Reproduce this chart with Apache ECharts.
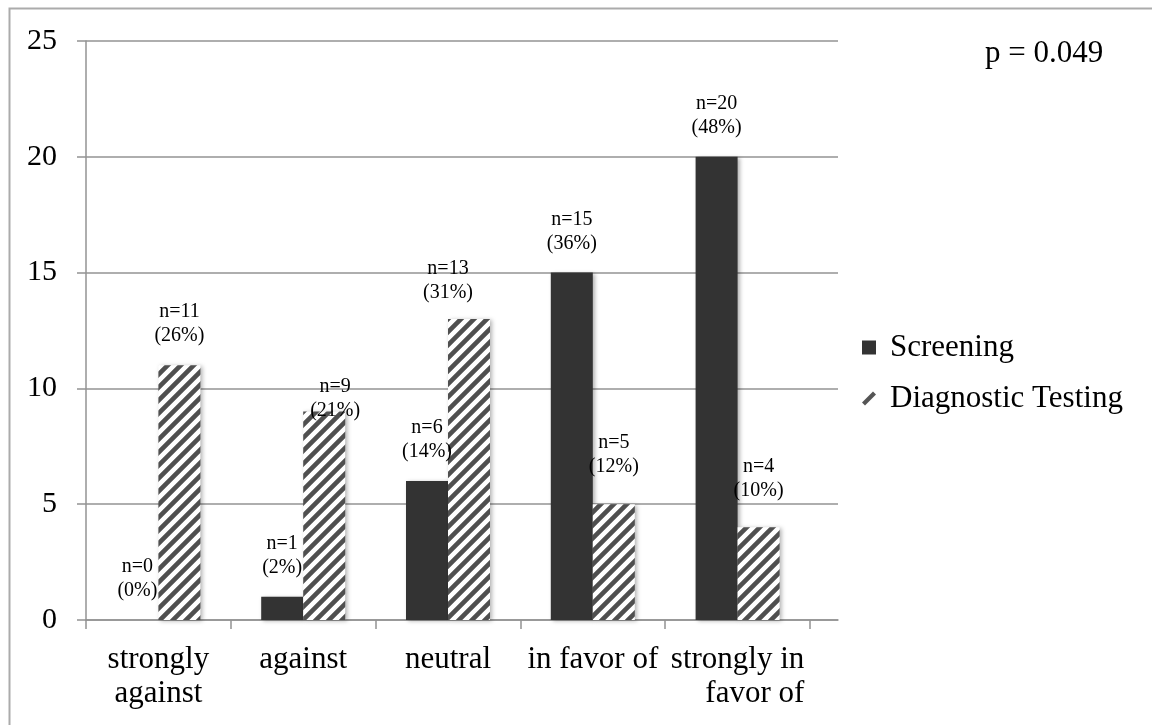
<!DOCTYPE html>
<html>
<head>
<meta charset="utf-8">
<script src="https://cdn.jsdelivr.net/npm/echarts@6/dist/echarts.min.js"></script>
<style>html,body{margin:0;padding:0;background:#fff;}#c{width:1152px;height:725px;}</style>
</head>
<body>
<div id="c"></div>
<script>
// ---- data ----
const categories = ['strongly against', 'against', 'neutral', 'in favor of', 'strongly in favor of'];
const screening = [0, 1, 6, 15, 20];
const screeningPct = [0, 2, 14, 36, 48];
const diagnostic = [11, 9, 13, 5, 4];
const diagnosticPct = [26, 21, 31, 12, 10];
const yTicks = [0, 5, 10, 15, 20, 25];
const pValueText = 'p = 0.049';

// ---- styles ----
const FONT = '"Liberation Serif", "Times New Roman", serif';
const BIG = 31;
const GRID_COLOR = '#939393';
const labelNudge = { // style tweaks per diagnostic label index
  1: { distance: -11, offset: [11, 0] },
  2: { distance: 14, offset: [-21, 0] },
  3: { distance: 25 },
  4: { distance: 25 }
};

function hatch() {
  const s = 13;
  const cv = document.createElement('canvas');
  cv.width = s; cv.height = s;
  const ctx = cv.getContext('2d');
  ctx.fillStyle = '#ffffff';
  ctx.fillRect(0, 0, s, s);
  ctx.strokeStyle = '#4f4f4f';
  ctx.lineWidth = 4.6;
  ctx.beginPath();
  ctx.moveTo(-3, 3); ctx.lineTo(3, -3);
  ctx.moveTo(-1, s + 1); ctx.lineTo(s + 1, -1);
  ctx.moveTo(s - 3, s + 3); ctx.lineTo(s + 3, s - 3);
  ctx.stroke();
  return cv;
}

const chart = echarts.init(document.getElementById('c'), null, { renderer: 'canvas' });

const labelBase = {
  show: true, position: 'top', distance: 17,
  fontFamily: FONT, fontSize: 20, lineHeight: 24, color: '#000'
};

const diagData = diagnostic.map((v, i) => {
  const d = { value: v };
  if (labelNudge[i]) d.label = Object.assign({}, labelNudge[i]);
  return d;
});

const option = {
  animation: false,
  backgroundColor: '#ffffff',
  textStyle: { fontFamily: FONT },
  grid: [
    { left: 86, top: 41, width: 724, height: 579 },
    { left: 86, top: 41, width: 752, height: 579 }
  ],
  xAxis: [
    {
      type: 'category', gridIndex: 0, data: categories,
      axisLine: { show: false },
      axisTick: { show: true, length: 9, alignWithLabel: false, lineStyle: { color: GRID_COLOR, width: 1.5 } },
      axisLabel: {
        margin: 23, fontFamily: FONT, fontSize: BIG, lineHeight: 34, color: '#000', interval: 0,
        formatter: function (v) {
          if (v === 'strongly against') return 'strongly\nagainst';
          if (v === 'strongly in favor of') return '{l|strongly in}\n{r|favor of}';
          return v;
        },
        rich: {
          l: { fontFamily: FONT, fontSize: BIG, lineHeight: 34, color: '#000', align: 'right' },
          r: { fontFamily: FONT, fontSize: BIG, lineHeight: 34, color: '#000', align: 'right' }
        }
      }
    },
    {
      type: 'value', gridIndex: 1, min: 0, max: 1,
      axisLine: { show: true, onZero: false, lineStyle: { color: GRID_COLOR, width: 1.5 } },
      axisTick: { show: false }, axisLabel: { show: false }, splitLine: { show: false }
    }
  ],
  yAxis: [
    {
      type: 'value', gridIndex: 0, min: yTicks[0], max: yTicks[yTicks.length - 1], interval: 5,
      axisLine: { show: true, lineStyle: { color: GRID_COLOR, width: 1.5 } },
      axisTick: { show: true, length: 9, lineStyle: { color: GRID_COLOR, width: 1.5 } },
      axisLabel: { margin: 29, fontFamily: FONT, fontSize: 30, color: '#000' },
      splitLine: { show: false }
    },
    {
      type: 'value', gridIndex: 1, min: yTicks[0], max: yTicks[yTicks.length - 1], interval: 5,
      axisLine: { show: false }, axisTick: { show: false }, axisLabel: { show: false },
      splitLine: { show: true, lineStyle: { color: GRID_COLOR, width: 1.5 } }
    }
  ],
  legend: {
    orient: 'vertical', left: 862, top: 332, padding: 0, itemWidth: 14, itemHeight: 14, itemGap: 20,
    textStyle: { fontFamily: FONT, fontSize: BIG, color: '#000', padding: [0, 0, 0, 9], lineHeight: 30 },
    data: [
      { name: 'Screening', icon: 'rect' },
      { name: 'Diagnostic Testing', icon: 'path://M0,11 L11,0 L14,3 L3,14 Z', itemStyle: { color: '#555555' } }
    ]
  },
  graphic: [
    { type: 'rect', left: 7, top: 6, shape: { width: 1300, height: 900 }, style: { fill: 'none', stroke: '#ababab', lineWidth: 2 }, z: 100 },
    { type: 'text', left: 985, top: 38, style: { text: pValueText, font: BIG + 'px ' + FONT, fill: '#000' } }
  ],
  series: [
    {
      name: 'Screening', type: 'bar', xAxisIndex: 0, yAxisIndex: 0,
      barWidth: 42, barGap: '0%', data: screening,
      itemStyle: { color: '#333333', shadowColor: 'rgba(0,0,0,0.3)', shadowBlur: 4, shadowOffsetX: 2, shadowOffsetY: 1 },
      label: Object.assign({}, labelBase, {
        formatter: p => 'n=' + screening[p.dataIndex] + '\n(' + screeningPct[p.dataIndex] + '%)'
      })
    },
    {
      name: 'Diagnostic Testing', type: 'bar', xAxisIndex: 0, yAxisIndex: 0,
      barWidth: 42, barGap: '0%', data: diagData,
      itemStyle: { color: { image: hatch(), repeat: 'repeat' }, shadowColor: 'rgba(0,0,0,0.3)', shadowBlur: 4, shadowOffsetX: 2, shadowOffsetY: 1 },
      label: Object.assign({}, labelBase, {
        formatter: p => 'n=' + diagnostic[p.dataIndex] + '\n(' + diagnosticPct[p.dataIndex] + '%)'
      })
    }
  ]
};
chart.setOption(option);
</script>
</body>
</html>
